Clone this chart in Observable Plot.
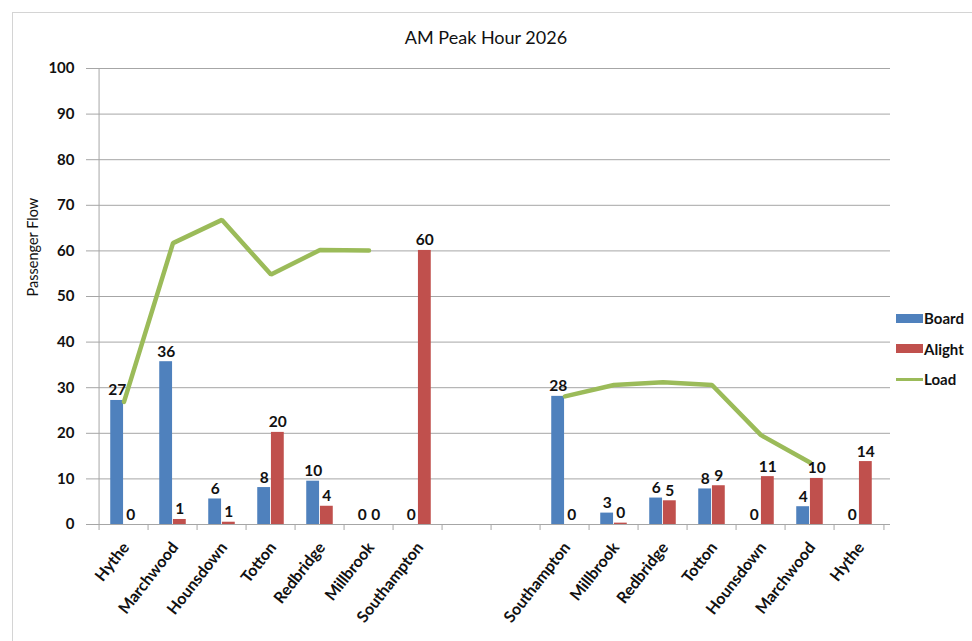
<!DOCTYPE html>
<html><head><meta charset="utf-8">
<script src="https://cdn.jsdelivr.net/npm/d3@7"></script>
<script src="https://cdn.jsdelivr.net/npm/@observablehq/plot@0.6"></script>
<style>
body{margin:0;background:#fff;font-family:Lato,"Open Sans",sans-serif;}
#frame{position:absolute;left:12px;top:12px;width:1000px;height:700px;border:1px solid #d4d4d4;}
#title{position:absolute;left:0;width:972px;top:26px;text-align:center;font-size:18px;color:#111;}
#chart{position:absolute;left:0;top:53px;}
#legend{position:absolute;left:896px;top:303px;font-size:15px;font-weight:700;color:#111;}
.li{display:flex;align-items:center;height:30.5px;}
.sw{width:27px;height:9px;margin-right:1px;}
.ln{width:27px;height:3px;margin-right:1px;}
</style>
</head><body>
<div id="frame"></div>
<div id="title">AM Peak Hour 2026</div>
<div id="chart"></div>
<div id="legend"></div>
<script>
// Outbound direction (Hythe -> Southampton)
const stopsOut = ["Hythe","Marchwood","Hounsdown","Totton","Redbridge","Millbrook","Southampton"];
const boardOut = [27.2, 35.7, 5.6, 8.1, 9.5, 0, 0];
const alightOut = [0, 1.1, 0.5, 20.2, 4.0, 0, 60.1];
const loadOut = [26.9, 61.7, 66.8, 54.8, 60.2, 60.1, null];
// Return direction (Southampton -> Hythe)
const stopsRet = ["Southampton","Millbrook","Redbridge","Totton","Hounsdown","Marchwood","Hythe"];
const boardRet = [28.1, 2.5, 5.8, 7.8, 0, 3.9, 0];
const alightRet = [0, 0.3, 5.2, 8.5, 10.5, 10.1, 13.8];
const loadRet = [28.1, 30.6, 31.2, 30.6, 19.6, 13.6, null];
const gapKeys = ["G1","G2"];
const yTicks = [0,10,20,30,40,50,60,70,80,90,100];
const seriesNames = ["Board","Alight","Load"];
const colors = ["#4F81BD","#C0504D","#9BBB59"];

const rows = [];
stopsOut.forEach((s,i)=>rows.push({key:"O"+i,name:s,dir:"out",board:boardOut[i],alight:alightOut[i],load:loadOut[i]}));
gapKeys.forEach(k=>rows.push({key:k,name:"",dir:"gap",board:null,alight:null,load:null}));
stopsRet.forEach((s,i)=>rows.push({key:"R"+i,name:s,dir:"ret",board:boardRet[i],alight:alightRet[i],load:loadRet[i]}));
const keys = rows.map(d=>d.key);
const nameOf = Object.fromEntries(rows.map(d=>[d.key,d.name]));
const bars = rows.filter(d=>d.dir!=="gap");
const loads = rows.filter(d=>d.load!=null);

const W=972, H=588, ML=92, MR=82, MT=15, MB=117;
const bw = (W-ML-MR)/keys.length;
const barW = 13.7;

const chart = Plot.plot({
  width: W, height: H,
  marginLeft: ML, marginRight: MR, marginTop: MT, marginBottom: MB,
  style: {fontFamily: "Lato, 'Open Sans', sans-serif", fontSize: "13px", color: "#111", background: "transparent"},
  x: {type: "band", domain: keys, paddingInner: 0, paddingOuter: 0},
  y: {domain: [0,100]},
  marks: [
    Plot.gridY(yTicks, {stroke: "#a6a6a6", strokeOpacity: 1}),
    Plot.ruleX([keys[0]], {y1: 0, y2: 100, dx: -bw/2, stroke: "#a6a6a6"}),
    Plot.axisY({ticks: yTicks, tickSize: 6, tickPadding: 12, fontWeight: 700, fontSize: 15, stroke: "#a6a6a6", label: null}),
    Plot.axisX({ticks: keys, tickSize: 6, tickFormat: () => "", dx: -bw/2, stroke: "#a6a6a6", label: null}),
    Plot.axisX({ticks: [keys[keys.length-1]], tickSize: 6, tickFormat: () => "", dx: bw/2, stroke: "#a6a6a6", label: null}),
    Plot.axisX({ticks: keys, tickSize: 0, tickPadding: 20, tickRotate: -52, dx: 2, tickFormat: k => nameOf[k], fontWeight: 700, fontSize: 16, label: null}),
    Plot.barY(bars, {x: "key", y: "board", fill: colors[0], insetLeft: bw/2 - barW, insetRight: bw/2}),
    Plot.barY(bars, {x: "key", y: "alight", fill: colors[1], insetLeft: bw/2, insetRight: bw/2 - barW}),
    Plot.line(loads, {x: "key", y: "load", z: "dir", stroke: colors[2], strokeWidth: 4.5, strokeLinejoin: "miter"}),
    Plot.text(bars, {x: "key", y: "board", text: d => Math.round(d.board), dx: -barW/2, dy: -5, lineAnchor: "bottom", fontWeight: 700, fontSize: 15.5, fill: "#111"}),
    Plot.text(bars, {x: "key", y: "alight", text: d => Math.round(d.alight), dx: barW/2, dy: -5, lineAnchor: "bottom", fontWeight: 700, fontSize: 15.5, fill: "#111"}),
    Plot.text(["Passenger Flow"], {frameAnchor: "left", text: d => d, rotate: -90, dx: -59, fontSize: 14.5, fill: "#111"})
  ]
});
document.getElementById("chart").appendChild(chart);

const lg = document.getElementById("legend");
seriesNames.forEach((n,i)=>{
  const row = document.createElement("div"); row.className = "li";
  const sw = document.createElement("div"); sw.className = i===2 ? "ln" : "sw"; sw.style.background = colors[i];
  const t = document.createElement("span"); t.textContent = n;
  row.appendChild(sw); row.appendChild(t); lg.appendChild(row);
});
</script>
</body></html>
